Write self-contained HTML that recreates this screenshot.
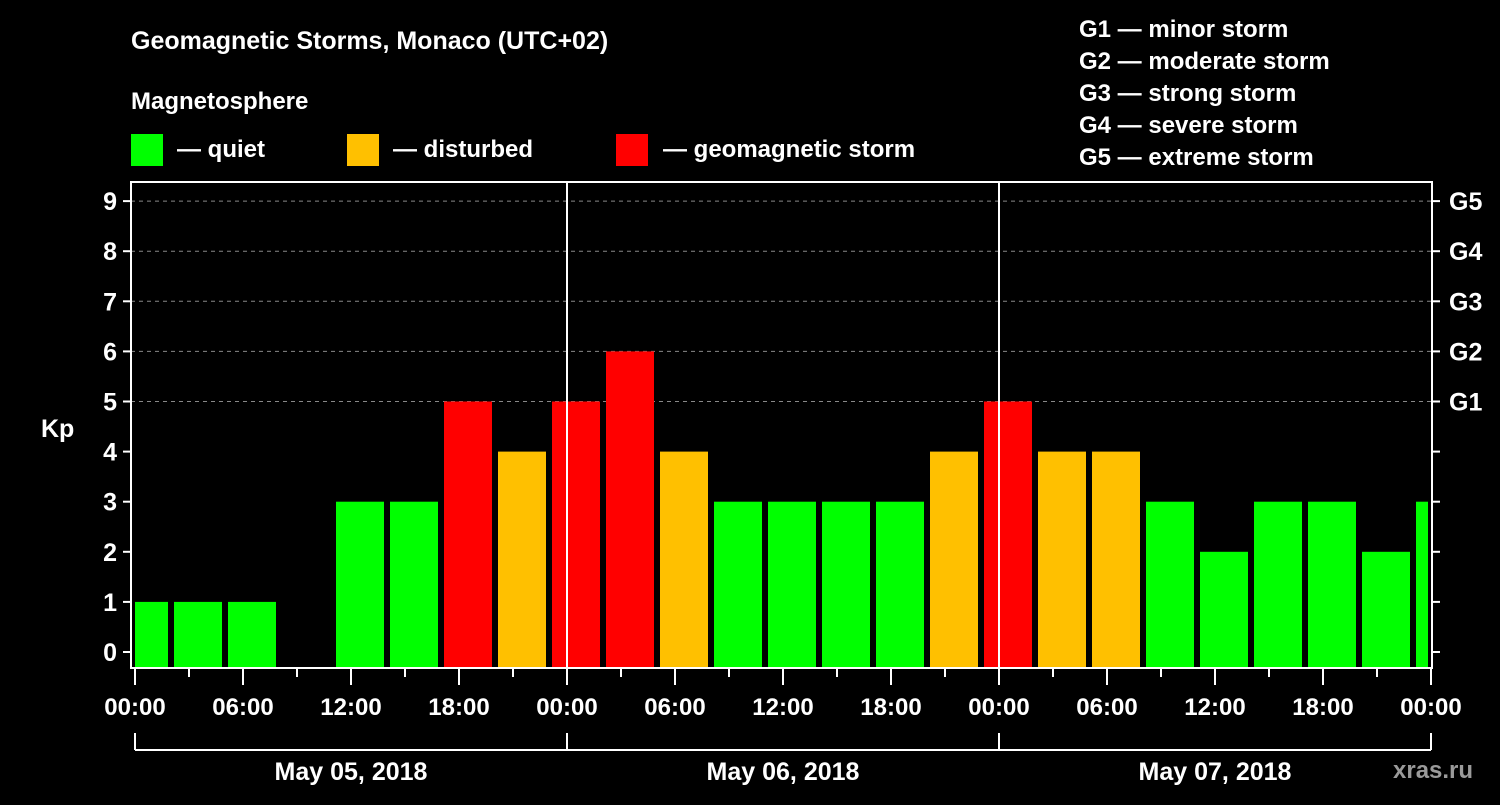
<!DOCTYPE html>
<html><head><meta charset="utf-8"><style>
body{margin:0;background:#000;width:1500px;height:800px;overflow:hidden}
svg text{font-family:"Liberation Sans",Arial,sans-serif;font-weight:bold;fill:#fff}
</style></head><body>
<svg id="chart" width="1500" height="800" xmlns="http://www.w3.org/2000/svg">
<text x="131" y="49" font-size="25">Geomagnetic Storms, Monaco (UTC+02)</text>
<text x="131" y="109" font-size="24">Magnetosphere</text>
<rect x="131" y="134" width="32" height="32" fill="#00ff00"/>
<text x="177" y="157" font-size="24">— quiet</text>
<rect x="347" y="134" width="32" height="32" fill="#ffc000"/>
<text x="393" y="157" font-size="24">— disturbed</text>
<rect x="616" y="134" width="32" height="32" fill="#ff0000"/>
<text x="663" y="157" font-size="24">— geomagnetic storm</text>
<g font-size="24">
<text x="1079" y="37">G1 — minor storm</text>
<text x="1079" y="69">G2 — moderate storm</text>
<text x="1079" y="101">G3 — strong storm</text>
<text x="1079" y="133">G4 — severe storm</text>
<text x="1079" y="165">G5 — extreme storm</text>
</g>
<text x="41" y="437" font-size="25">Kp</text>
<text x="1393" y="778" font-size="24" fill="#999" style="fill:#9a9a9a">xras.ru</text>
<g id="marks"></g>
</svg>
<script>
const kpValues=[1,1,1,0,3,3,5,4,5,6,4,3,3,3,3,4,5,4,4,3,2,3,3,2,3];
const yTicks=[0,1,2,3,4,5,6,7,8,9];
const gLabels=["G1","G2","G3","G4","G5"];
const hourLabels=["00:00","06:00","12:00","18:00"];
const dayLabels=["May 05, 2018","May 06, 2018","May 07, 2018"];

const NS="http://www.w3.org/2000/svg";
const g=document.getElementById('marks');
const L=131,R=1432,T=182,B=668,X0=135,DAY=432;
const xT=h=>X0+h*DAY/24;
const yK=v=>652-v*50.1;
function mk(tag,at){const e=document.createElementNS(NS,tag);for(const k in at)e.setAttribute(k,at[k]);g.appendChild(e);return e;}
function col(v){return v>=5?'#ff0000':v>=4?'#ffc000':'#00ff00';}
// grid
yTicks.forEach(v=>{
 if(v>=5){const l=mk('line',{x1:L,x2:R,y1:yK(v),y2:yK(v),stroke:'#888','stroke-dasharray':'4,4'});
 
 }
});
// bars
kpValues.forEach((v,i)=>{
 if(v<=0)return;
 let x1=Math.max(xT(i*3)-15,L+4),x2=Math.min(xT(i*3)+33,R-4);
 const r=mk('rect',{x:x1,y:yK(v),width:x2-x1,height:B-1-yK(v),fill:col(v)});
 
 
});
// day separators
[1,2].forEach(d=>{mk('line',{x1:xT(24*d),x2:xT(24*d),y1:T,y2:B,stroke:'#fff','stroke-width':2});});
// frame
const fr=mk('rect',{x:L,y:T,width:R-L,height:B-T,fill:'none',stroke:'#fff','stroke-width':2});


// y ticks
yTicks.forEach(v=>{
 const y=yK(v);
 mk('line',{x1:L-8,x2:L,y1:y,y2:y,stroke:'#fff','stroke-width':2});
 mk('line',{x1:R,x2:R+8,y1:y,y2:y,stroke:'#fff','stroke-width':2});
 const t=mk('text',{x:L-14,y:y+9,'font-size':25,'text-anchor':'end'});t.textContent=v;
 
 
 if(v>=5){const s=mk('text',{x:R+17,y:y+9,'font-size':25});s.textContent=gLabels[v-5];
 
 }
});
// x ticks
for(let h=0;h<=72;h+=3){
 const x=xT(h),maj=h%6===0;
 mk('line',{x1:x,x2:x,y1:B,y2:B+(maj?17:9),stroke:'#fff','stroke-width':2});
 if(maj){const t=mk('text',{x:x,y:715,'font-size':24,'text-anchor':'middle'});t.textContent=hourLabels[(h/6)%4];
 
 }
}
// day bracket
mk('line',{x1:xT(0),x2:xT(72),y1:750,y2:750,stroke:'#fff','stroke-width':2});
for(let d=0;d<=3;d++)mk('line',{x1:xT(24*d),x2:xT(24*d),y1:733,y2:750,stroke:'#fff','stroke-width':2});
dayLabels.forEach((s,d)=>{const t=mk('text',{x:xT(24*d+12),y:780,'font-size':25,'text-anchor':'middle'});t.textContent=s;
 
 });
</script>
</body></html>
